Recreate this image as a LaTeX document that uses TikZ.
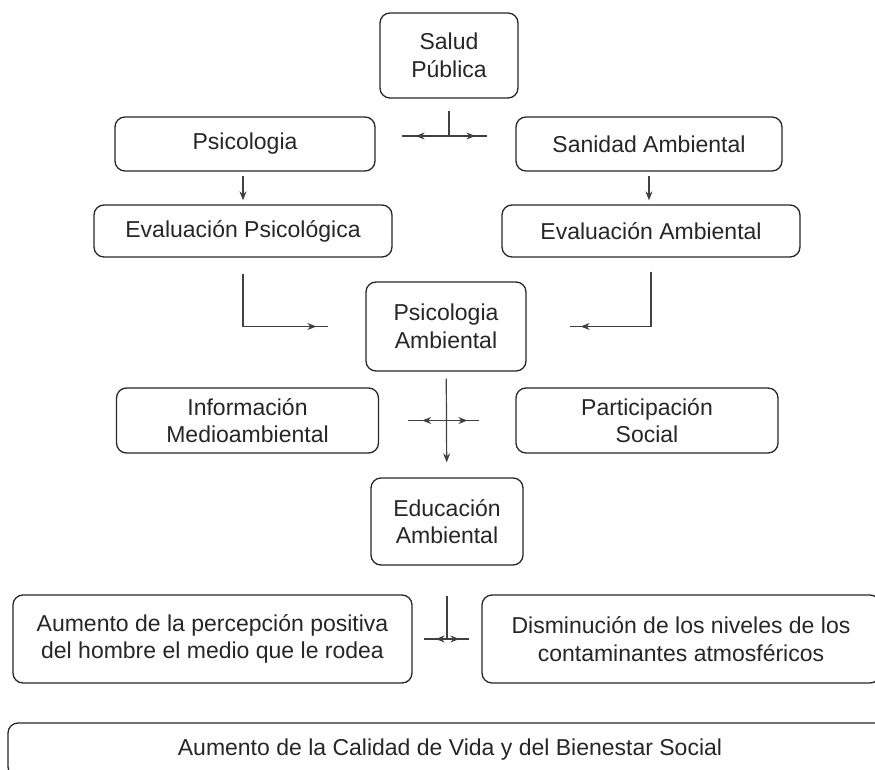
\documentclass[tikz,border=0pt]{standalone}
\usepackage{fontspec}
\setmainfont{Liberation Sans}
\usetikzlibrary{arrows.meta, positioning}

\begin{document}
\begin{tikzpicture}[
    x=1pt, y=-1pt,
    font=\fontsize{23}{27.5}\selectfont,
    box/.style={draw=black!85, line width=1.3pt, rounded corners=10pt, align=center, inner sep=0pt, text=black!85},
    link/.style={draw=black!75, line width=1.2pt},
    tip/.style={link, -{Stealth[length=9pt, width=7pt]}}
  ]
  \useasboundingbox (0,0) rectangle (875,770);

  % Nodes for the levels
  \node[box, minimum width=138, minimum height=85] (salud) at (449,55.5) {Salud\\Pública};
  \node[box, minimum width=260, minimum height=54] (psico) at (245,144) {Psicologia};
  \node[box, minimum width=266, minimum height=54] (sanidad) at (649,144) {Sanidad Ambiental};
  \node[box, minimum width=298, minimum height=52] (evalpsi) at (243,231) {Evaluación Psicológica};
  \node[box, minimum width=298, minimum height=52] (evalamb) at (651,231) {Evaluación Ambiental};
  \node[box, minimum width=160, minimum height=89] (psicamb) at (446,326.5) {Psicologia\\Ambiental};
  \node[box, minimum width=262, minimum height=65] (info) at (247.5,420.5) {Información\\Medioambiental};
  \node[box, minimum width=262, minimum height=65] (partic) at (647,420.5) {Participación\\Social};
  \node[box, minimum width=152, minimum height=87] (educ) at (447,521.5) {Educación\\Ambiental};
  \node[box, minimum width=399, minimum height=88] (aumento) at (212.5,639) {Aumento de la percepción positiva\\del hombre el medio que le rodea};
  \node[box, minimum width=398, minimum height=88] (dismin) at (681,639) {Disminución de los niveles de los\\contaminantes atmosféricos};
  \node[box, minimum width=884, minimum height=54] (calidad) at (450,750) {Aumento de la Calidad de Vida y del Bienestar Social};

  % Junctions
  \coordinate (jtop) at (449,136);

  % Arrows between levels
  \draw[link, shorten <=12pt] (salud) -- (jtop);
  \draw[link, shorten >=26pt] (jtop) -- (jtop -| psico.east);
  \draw[tip, shorten >=40pt] (jtop) -- (jtop -| psico.east);
  \draw[link, shorten >=28pt] (jtop) -- (jtop -| sanidad.west);
  \draw[tip, shorten >=40pt] (jtop) -- (jtop -| sanidad.west);

  \draw[tip, shorten <=4pt, shorten >=4pt] (psico.south -| evalpsi) -- (evalpsi);
  \draw[tip, shorten <=4pt, shorten >=4pt] (sanidad) -- (sanidad |- evalamb.north);

  \draw[link, shorten <=16pt, shorten >=37pt] (evalpsi) |- (psicamb.west);
  \draw[tip, shorten <=16pt, shorten >=49pt] (evalpsi) |- (psicamb.west);
  \draw[link, shorten <=14pt, shorten >=43pt] (evalamb) |- (psicamb.east);
  \draw[tip, shorten <=14pt, shorten >=54pt] (evalamb) |- (psicamb.east);

  \draw[tip, shorten <=7pt, shorten >=15pt] (psicamb) -- (educ);
  \draw[link, shorten >=29pt] (psicamb |- info) -- (info);
  \draw[tip, shorten >=43pt] (psicamb |- info) -- (info);
  \draw[link, shorten >=36pt] (psicamb |- partic) -- (partic);
  \draw[tip, shorten >=48pt] (psicamb |- partic) -- (partic);

  \draw[link, shorten <=30pt] (educ) -- (educ |- aumento);
  \draw[link, shorten >=11pt] (educ |- aumento) -- (aumento);
  \draw[tip, shorten >=23pt] (educ |- aumento) -- (aumento);
  \draw[link, shorten >=12pt] (educ |- dismin) -- (dismin);
  \draw[tip, shorten >=22pt] (educ |- dismin) -- (dismin);
\end{tikzpicture}
\end{document}
